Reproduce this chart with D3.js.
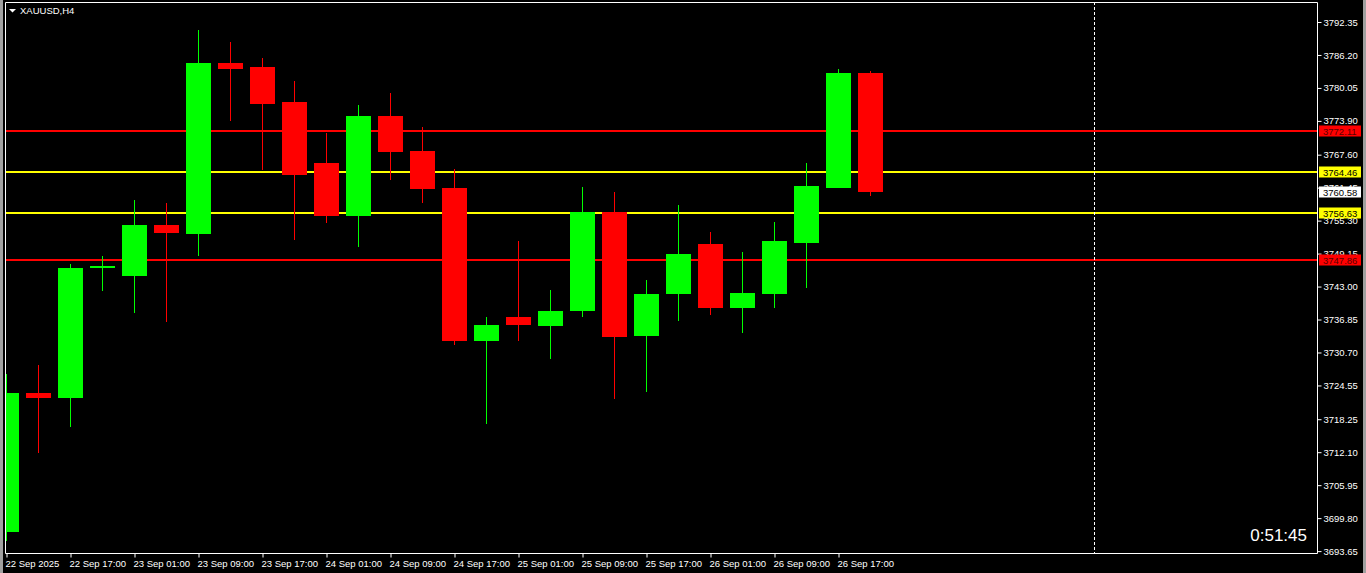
<!DOCTYPE html>
<html>
<head>
<meta charset="utf-8">
<script src="https://cdn.jsdelivr.net/npm/d3@7"></script>
<style>
  html, body { margin: 0; padding: 0; background: #000; overflow: hidden; }
  svg { display: block; }
  text { font-family: "Liberation Sans", Arial, sans-serif; }
</style>
</head>
<body>
<script>
// bar labels on the time axis (every second H4 bar)
const timeLabels = ['22 Sep 2025', '22 Sep 17:00', '23 Sep 01:00', '23 Sep 09:00', '23 Sep 17:00',
  '24 Sep 01:00', '24 Sep 09:00', '24 Sep 17:00', '25 Sep 01:00', '25 Sep 09:00',
  '25 Sep 17:00', '26 Sep 01:00', '26 Sep 09:00', '26 Sep 17:00'];

// OHLC of the 28 visible bars
const opens = [3697.28, 3723.15, 3722.27, 3746.46, 3744.97, 3754.48, 3752.86, 3784.70, 3783.96, 3777.43,
  3766.05, 3756.22, 3774.82, 3768.29, 3761.39, 3732.90, 3737.32, 3735.70, 3738.50, 3756.91,
  3733.83, 3741.67, 3750.94, 3739.06, 3741.67, 3751.18, 3761.44, 3782.84];
const highs = [3726.69, 3728.37, 3747.21, 3748.70, 3759.15, 3758.59, 3790.86, 3788.62, 3785.63, 3781.34,
  3771.64, 3776.87, 3779.11, 3772.71, 3764.87, 3737.32, 3751.50, 3742.36, 3761.57, 3760.64,
  3744.22, 3758.21, 3753.18, 3749.45, 3755.04, 3766.05, 3783.58, 3783.20];
const lows = [3695.54, 3712.01, 3716.75, 3742.23, 3738.13, 3736.45, 3748.76, 3773.94, 3764.80, 3751.74,
  3754.91, 3750.44, 3762.93, 3758.64, 3732.10, 3717.42, 3732.90, 3729.55, 3737.38, 3722.08,
  3723.39, 3736.63, 3737.75, 3734.39, 3739.06, 3742.79, 3761.30, 3759.95];
const closes = [3723.15, 3722.27, 3746.46, 3746.80, 3754.48, 3753.05, 3784.70, 3783.58, 3777.11, 3763.87,
  3756.22, 3774.82, 3768.16, 3761.26, 3732.90, 3735.83, 3735.89, 3738.44, 3756.91, 3733.65,
  3741.61, 3749.07, 3739.06, 3741.80, 3751.50, 3761.76, 3782.84, 3760.58];

// price axis ticks
const priceTicks = [3792.35, 3786.20, 3780.05, 3773.90, 3767.60, 3761.45, 3755.30, 3749.15, 3743.00,
  3736.85, 3730.70, 3724.55, 3718.25, 3712.10, 3705.95, 3699.80, 3693.65];

// horizontal levels
const levelPrices = [3772.11, 3764.46, 3756.63, 3747.86];
const levelColors = ['#ff0000', '#ffff00', '#ffff00', '#ff0000'];
const bidPrice = 3760.58;
const countdown = '0:51:45';
const symbol = 'XAUUSD,H4';

const W = 1366, H = 573;
const plotL = 6, plotR = 1317, plotT = 2, plotB = 553;

const svg = d3.select('body').append('svg')
  .attr('width', W).attr('height', H);

svg.append('rect').attr('width', W).attr('height', H).attr('fill', '#000');
// window edges
svg.append('rect').attr('x', 0).attr('y', 0).attr('width', 3).attr('height', H).attr('fill', '#a0a0a0');
svg.append('rect').attr('x', 1363).attr('y', 0).attr('width', 3).attr('height', H).attr('fill', '#a0a0a0');

const x = d3.scaleLinear().domain([0, 34]).range([plotL, plotL + 32 * 34]);
const y = d3.scaleLinear().domain([3693.65, 3792.35]).range([551.1, 22]);

const bars = opens.map((o, i) => ({ i, o, h: highs[i], l: lows[i], c: closes[i] }));

svg.append('clipPath').attr('id', 'plot')
  .append('rect').attr('x', plotL).attr('y', plotT).attr('width', plotR - plotL).attr('height', plotB - plotT);

const g = svg.append('g').attr('clip-path', 'url(#plot)');

// levels
g.selectAll('.level')
  .data(levelPrices)
  .enter().append('line')
  .attr('x1', plotL).attr('x2', plotR)
  .attr('y1', d => Math.round(y(d))).attr('y2', d => Math.round(y(d)))
  .attr('stroke', (d, i) => levelColors[i]).attr('stroke-width', 2);

// shift border
g.append('line')
  .attr('x1', x(34) + 0.5).attr('x2', x(34) + 0.5)
  .attr('y1', plotT).attr('y2', plotB)
  .attr('stroke', '#fff').attr('stroke-dasharray', '3,2');

const candle = g.selectAll('.candle')
  .data(bars)
  .enter().append('g')
  .attr('fill', d => d.c >= d.o ? '#00ff00' : '#ff0000')
  .attr('stroke', d => d.c >= d.o ? '#00ff00' : '#ff0000');

candle.append('line')
  .attr('x1', d => x(d.i) + 0.5).attr('x2', d => x(d.i) + 0.5)
  .attr('y1', d => Math.round(y(d.h))).attr('y2', d => Math.round(y(d.l)))
  .attr('stroke-width', 1);

candle.append('rect')
  .attr('stroke', 'none')
  .attr('x', d => x(d.i) - 12)
  .attr('width', 25)
  .attr('y', d => Math.round(y(Math.max(d.o, d.c))))
  .attr('height', d => Math.max(2, Math.round(y(Math.min(d.o, d.c))) - Math.round(y(Math.max(d.o, d.c)))));

// frame
svg.append('path')
  .attr('d', `M${plotL - 0.5},${plotB + 0.5}V${plotT + 0.5}H${plotR + 0.5}V${plotB + 0.5}H${plotL - 0.5}`)
  .attr('fill', 'none').attr('stroke', '#fff');

// price axis
const yAxis = svg.append('g')
  .attr('transform', `translate(${plotR + 0.5},0)`)
  .call(d3.axisRight(y).tickValues(priceTicks).tickFormat(d3.format('.2f')).tickSize(4).tickPadding(2));
yAxis.select('.domain').remove();
yAxis.selectAll('.tick line').attr('stroke', '#fff');
yAxis.selectAll('text').attr('fill', '#fff').style('font-size', '9.5px')
  .style('font-family', '"Liberation Sans", Arial, sans-serif');

// time axis
const tickIdx = timeLabels.map((t, k) => k * 2);
const xAxis = svg.append('g')
  .attr('transform', `translate(0.5,${plotB + 0.5})`)
  .call(d3.axisBottom(x).tickValues(tickIdx).tickFormat((d, k) => timeLabels[k]).tickSize(4).tickPadding(3));
xAxis.select('.domain').remove();
xAxis.selectAll('.tick line').attr('stroke', '#fff');
xAxis.selectAll('text').attr('fill', '#fff').attr('text-anchor', 'start').attr('dx', -1.5)
  .style('font-size', '9.5px').style('font-family', '"Liberation Sans", Arial, sans-serif');

// price labels of the levels and bid
const tags = levelPrices.map((p, i) => ({ p, fill: levelColors[i], txt: i % 3 === 0 ? '#5a0000' : '#000' }))
  .concat([{ p: bidPrice, fill: '#ffffff', txt: '#000' }]);
const tag = svg.selectAll('.tag').data(tags).enter().append('g')
  .attr('transform', d => `translate(1319,${Math.round(y(d.p))})`);
tag.append('rect').attr('x', 0).attr('y', -5.5).attr('width', 42).attr('height', 11)
  .attr('fill', d => d.fill);
tag.append('text').attr('x', 4).attr('y', 3.5)
  .attr('fill', d => d.txt).style('font-size', '9.5px')
  .text(d => d3.format('.2f')(d.p));

// symbol title
svg.append('path').attr('d', 'M9,9L16,9L12.5,12.5Z').attr('fill', '#fff');
svg.append('text').attr('x', 20).attr('y', 14).attr('fill', '#fff')
  .style('font-size', '9.5px').text(symbol);

// bar countdown
svg.append('text').attr('x', 1307).attr('y', 541).attr('text-anchor', 'end')
  .attr('fill', '#fff').style('font-size', '17px').text(countdown);
</script>
</body>
</html>
